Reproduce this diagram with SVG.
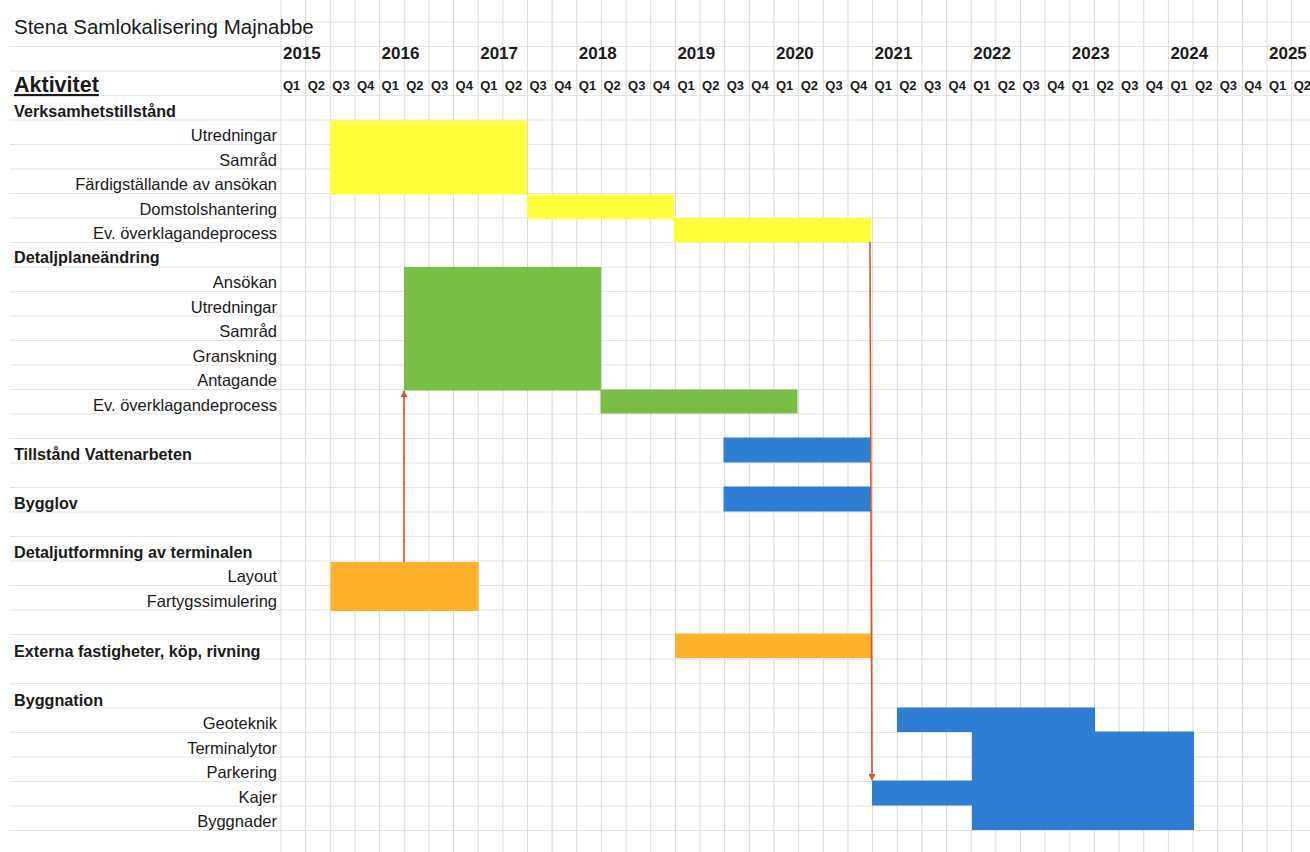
<svg xmlns="http://www.w3.org/2000/svg" width="1310" height="852" viewBox="0 0 1310 852">
<style>
.bg{fill:#ffffff}
.gv{stroke:#d9d9d9;stroke-width:1}
.gh{stroke:#e3e3e3;stroke-width:1}
.t{font-family:"Liberation Sans",Arial,sans-serif;fill:#1a1a1a}
.lab{font-size:16.5px;text-anchor:end}
.hd{font-size:16.2px;font-weight:bold}
.yr{font-size:17px;font-weight:bold}
.q{font-size:13px;font-weight:bold}
.y{fill:#ffff3c}
.g{fill:#79bf45}
.b{fill:#2e7fd4}
.o{fill:#ffb12b}
.arr{stroke:#d9532b;stroke-width:1.6;fill:none}
</style>
<defs>
<marker id="ah" viewBox="0 0 10 10" refX="9" refY="5" markerWidth="7" markerHeight="7" markerUnits="userSpaceOnUse" orient="auto">
<path d="M0,0 L10,5 L0,10 z" fill="#d9532b"/>
</marker>
</defs>
<rect class="bg" x="0" y="0" width="1310" height="852"/>
<g id="grid">
<line class="gh" x1="10" y1="22" x2="1310" y2="22"/>
<line class="gh" x1="10" y1="46.5" x2="1310" y2="46.5"/>
<line class="gh" x1="10" y1="71" x2="1310" y2="71"/>
<line class="gh" x1="10" y1="95.5" x2="1310" y2="95.5"/>
<line class="gh" x1="10" y1="120" x2="1310" y2="120"/>
<line class="gh" x1="10" y1="144.5" x2="1310" y2="144.5"/>
<line class="gh" x1="10" y1="169" x2="1310" y2="169"/>
<line class="gh" x1="10" y1="193.5" x2="1310" y2="193.5"/>
<line class="gh" x1="10" y1="218" x2="1310" y2="218"/>
<line class="gh" x1="10" y1="242.5" x2="1310" y2="242.5"/>
<line class="gh" x1="10" y1="267" x2="1310" y2="267"/>
<line class="gh" x1="10" y1="291.5" x2="1310" y2="291.5"/>
<line class="gh" x1="10" y1="316" x2="1310" y2="316"/>
<line class="gh" x1="10" y1="340.5" x2="1310" y2="340.5"/>
<line class="gh" x1="10" y1="365" x2="1310" y2="365"/>
<line class="gh" x1="10" y1="389.5" x2="1310" y2="389.5"/>
<line class="gh" x1="10" y1="414" x2="1310" y2="414"/>
<line class="gh" x1="10" y1="438.5" x2="1310" y2="438.5"/>
<line class="gh" x1="10" y1="463" x2="1310" y2="463"/>
<line class="gh" x1="10" y1="487.5" x2="1310" y2="487.5"/>
<line class="gh" x1="10" y1="512" x2="1310" y2="512"/>
<line class="gh" x1="10" y1="536.5" x2="1310" y2="536.5"/>
<line class="gh" x1="10" y1="561" x2="1310" y2="561"/>
<line class="gh" x1="10" y1="585.5" x2="1310" y2="585.5"/>
<line class="gh" x1="10" y1="610" x2="1310" y2="610"/>
<line class="gh" x1="10" y1="634.5" x2="1310" y2="634.5"/>
<line class="gh" x1="10" y1="659" x2="1310" y2="659"/>
<line class="gh" x1="10" y1="683.5" x2="1310" y2="683.5"/>
<line class="gh" x1="10" y1="708" x2="1310" y2="708"/>
<line class="gh" x1="10" y1="732.5" x2="1310" y2="732.5"/>
<line class="gh" x1="10" y1="757" x2="1310" y2="757"/>
<line class="gh" x1="10" y1="781.5" x2="1310" y2="781.5"/>
<line class="gh" x1="10" y1="806" x2="1310" y2="806"/>
<line class="gh" x1="10" y1="830.5" x2="1310" y2="830.5"/>
<line class="gv" x1="281" y1="0" x2="281" y2="852"/>
<line class="gv" x1="305.65" y1="0" x2="305.65" y2="852"/>
<line class="gv" x1="330.3" y1="0" x2="330.3" y2="852"/>
<line class="gv" x1="354.95" y1="0" x2="354.95" y2="852"/>
<line class="gv" x1="379.6" y1="0" x2="379.6" y2="852"/>
<line class="gv" x1="404.25" y1="0" x2="404.25" y2="852"/>
<line class="gv" x1="428.9" y1="0" x2="428.9" y2="852"/>
<line class="gv" x1="453.55" y1="0" x2="453.55" y2="852"/>
<line class="gv" x1="478.2" y1="0" x2="478.2" y2="852"/>
<line class="gv" x1="502.85" y1="0" x2="502.85" y2="852"/>
<line class="gv" x1="527.5" y1="0" x2="527.5" y2="852"/>
<line class="gv" x1="552.15" y1="0" x2="552.15" y2="852"/>
<line class="gv" x1="576.8" y1="0" x2="576.8" y2="852"/>
<line class="gv" x1="601.45" y1="0" x2="601.45" y2="852"/>
<line class="gv" x1="626.1" y1="0" x2="626.1" y2="852"/>
<line class="gv" x1="650.75" y1="0" x2="650.75" y2="852"/>
<line class="gv" x1="675.4" y1="0" x2="675.4" y2="852"/>
<line class="gv" x1="700.05" y1="0" x2="700.05" y2="852"/>
<line class="gv" x1="724.7" y1="0" x2="724.7" y2="852"/>
<line class="gv" x1="749.35" y1="0" x2="749.35" y2="852"/>
<line class="gv" x1="774" y1="0" x2="774" y2="852"/>
<line class="gv" x1="798.65" y1="0" x2="798.65" y2="852"/>
<line class="gv" x1="823.3" y1="0" x2="823.3" y2="852"/>
<line class="gv" x1="847.95" y1="0" x2="847.95" y2="852"/>
<line class="gv" x1="872.6" y1="0" x2="872.6" y2="852"/>
<line class="gv" x1="897.25" y1="0" x2="897.25" y2="852"/>
<line class="gv" x1="921.9" y1="0" x2="921.9" y2="852"/>
<line class="gv" x1="946.55" y1="0" x2="946.55" y2="852"/>
<line class="gv" x1="971.2" y1="0" x2="971.2" y2="852"/>
<line class="gv" x1="995.85" y1="0" x2="995.85" y2="852"/>
<line class="gv" x1="1020.5" y1="0" x2="1020.5" y2="852"/>
<line class="gv" x1="1045.15" y1="0" x2="1045.15" y2="852"/>
<line class="gv" x1="1069.8" y1="0" x2="1069.8" y2="852"/>
<line class="gv" x1="1094.45" y1="0" x2="1094.45" y2="852"/>
<line class="gv" x1="1119.1" y1="0" x2="1119.1" y2="852"/>
<line class="gv" x1="1143.75" y1="0" x2="1143.75" y2="852"/>
<line class="gv" x1="1168.4" y1="0" x2="1168.4" y2="852"/>
<line class="gv" x1="1193.05" y1="0" x2="1193.05" y2="852"/>
<line class="gv" x1="1217.7" y1="0" x2="1217.7" y2="852"/>
<line class="gv" x1="1242.35" y1="0" x2="1242.35" y2="852"/>
<line class="gv" x1="1267" y1="0" x2="1267" y2="852"/>
<line class="gv" x1="1291.65" y1="0" x2="1291.65" y2="852"/>
</g>
<g id="header">
<text class="t" x="14" y="34" font-size="20.5">Stena Samlokalisering Majnabbe</text>
<text class="t" x="14" y="92" font-size="21.5" font-weight="bold" text-decoration="underline">Aktivitet</text>
<text class="t yr" x="283" y="58.5">2015</text>
<text class="t yr" x="381.6" y="58.5">2016</text>
<text class="t yr" x="480.2" y="58.5">2017</text>
<text class="t yr" x="578.8" y="58.5">2018</text>
<text class="t yr" x="677.4" y="58.5">2019</text>
<text class="t yr" x="776" y="58.5">2020</text>
<text class="t yr" x="874.6" y="58.5">2021</text>
<text class="t yr" x="973.2" y="58.5">2022</text>
<text class="t yr" x="1071.8" y="58.5">2023</text>
<text class="t yr" x="1170.4" y="58.5">2024</text>
<text class="t yr" x="1269" y="58.5">2025</text>
<text class="t q" x="283" y="90">Q1</text>
<text class="t q" x="307.65" y="90">Q2</text>
<text class="t q" x="332.3" y="90">Q3</text>
<text class="t q" x="356.95" y="90">Q4</text>
<text class="t q" x="381.6" y="90">Q1</text>
<text class="t q" x="406.25" y="90">Q2</text>
<text class="t q" x="430.9" y="90">Q3</text>
<text class="t q" x="455.55" y="90">Q4</text>
<text class="t q" x="480.2" y="90">Q1</text>
<text class="t q" x="504.85" y="90">Q2</text>
<text class="t q" x="529.5" y="90">Q3</text>
<text class="t q" x="554.15" y="90">Q4</text>
<text class="t q" x="578.8" y="90">Q1</text>
<text class="t q" x="603.45" y="90">Q2</text>
<text class="t q" x="628.1" y="90">Q3</text>
<text class="t q" x="652.75" y="90">Q4</text>
<text class="t q" x="677.4" y="90">Q1</text>
<text class="t q" x="702.05" y="90">Q2</text>
<text class="t q" x="726.7" y="90">Q3</text>
<text class="t q" x="751.35" y="90">Q4</text>
<text class="t q" x="776" y="90">Q1</text>
<text class="t q" x="800.65" y="90">Q2</text>
<text class="t q" x="825.3" y="90">Q3</text>
<text class="t q" x="849.95" y="90">Q4</text>
<text class="t q" x="874.6" y="90">Q1</text>
<text class="t q" x="899.25" y="90">Q2</text>
<text class="t q" x="923.9" y="90">Q3</text>
<text class="t q" x="948.55" y="90">Q4</text>
<text class="t q" x="973.2" y="90">Q1</text>
<text class="t q" x="997.85" y="90">Q2</text>
<text class="t q" x="1022.5" y="90">Q3</text>
<text class="t q" x="1047.15" y="90">Q4</text>
<text class="t q" x="1071.8" y="90">Q1</text>
<text class="t q" x="1096.45" y="90">Q2</text>
<text class="t q" x="1121.1" y="90">Q3</text>
<text class="t q" x="1145.75" y="90">Q4</text>
<text class="t q" x="1170.4" y="90">Q1</text>
<text class="t q" x="1195.05" y="90">Q2</text>
<text class="t q" x="1219.7" y="90">Q3</text>
<text class="t q" x="1244.35" y="90">Q4</text>
<text class="t q" x="1269" y="90">Q1</text>
<text class="t q" x="1293.65" y="90">Q2</text>
</g>
<g id="verksamhetstillstand">
<text class="t hd" x="14" y="116.5">Verksamhetstillstånd</text>
<rect class="y" x="330" y="120.5" width="197" height="74"/>
<text class="t lab" x="277" y="141">Utredningar</text>
<text class="t lab" x="277" y="165.5">Samråd</text>
<text class="t lab" x="277" y="190">Färdigställande av ansökan</text>
</g>
<g id="domstolshantering">
<rect class="y" x="527" y="194.5" width="147" height="24.5"/>
<text class="t lab" x="277" y="214.5">Domstolshantering</text>
</g>
<g id="ev-overklagande-1">
<rect class="y" x="673.5" y="218" width="197.5" height="24.5"/>
<text class="t lab" x="277" y="239">Ev. överklagandeprocess</text>
</g>
<g id="detaljplaneandring">
<text class="t hd" x="14" y="263">Detaljplaneändring</text>
<rect class="g" x="404" y="267" width="197" height="123.5"/>
<text class="t lab" x="277" y="288">Ansökan</text>
<text class="t lab" x="277" y="312.5">Utredningar</text>
<text class="t lab" x="277" y="337">Samråd</text>
<text class="t lab" x="277" y="361.5">Granskning</text>
<text class="t lab" x="277" y="386">Antagande</text>
</g>
<g id="ev-overklagande-2">
<rect class="g" x="600.5" y="389.5" width="197" height="24"/>
<text class="t lab" x="277" y="410.5">Ev. överklagandeprocess</text>
</g>
<g id="tillstand-vattenarbeten">
<text class="t hd" x="14" y="459.5">Tillstånd Vattenarbeten</text>
<rect class="b" x="723.5" y="437.5" width="147.5" height="25"/>
</g>
<g id="bygglov">
<text class="t hd" x="14" y="508.5">Bygglov</text>
<rect class="b" x="723.5" y="486.5" width="147.5" height="25"/>
</g>
<g id="detaljutformning">
<text class="t hd" x="14" y="557.5">Detaljutformning av terminalen</text>
<rect class="o" x="330.5" y="562" width="148" height="49"/>
<text class="t lab" x="277" y="582">Layout</text>
<text class="t lab" x="277" y="606.5">Fartygssimulering</text>
</g>
<g id="externa-fastigheter">
<text class="t hd" x="14" y="656.5">Externa fastigheter, köp, rivning</text>
<rect class="o" x="675" y="633.5" width="196" height="24.5"/>
</g>
<g id="byggnation">
<text class="t hd" x="14" y="705.5">Byggnation</text>
</g>
<g id="geoteknik">
<rect class="b" x="897" y="707.5" width="198" height="24.5"/>
<text class="t lab" x="277" y="729">Geoteknik</text>
</g>
<g id="terminalytor">
<rect class="b" x="972" y="731.5" width="222" height="25"/>
<text class="t lab" x="277" y="753.5">Terminalytor</text>
</g>
<g id="parkering">
<rect class="b" x="972" y="756" width="222" height="25"/>
<text class="t lab" x="277" y="778">Parkering</text>
</g>
<g id="kajer">
<rect class="b" x="872" y="780.5" width="322" height="25"/>
<text class="t lab" x="277" y="802.5">Kajer</text>
</g>
<g id="byggnader">
<rect class="b" x="972" y="805" width="222" height="25"/>
<text class="t lab" x="277" y="827">Byggnader</text>
</g>
<g id="connectors">
<line class="arr" x1="404" y1="562" x2="404" y2="391" marker-end="url(#ah)"/>
<line class="arr" x1="870" y1="242" x2="872" y2="780" marker-end="url(#ah)"/>
</g>
</svg>
